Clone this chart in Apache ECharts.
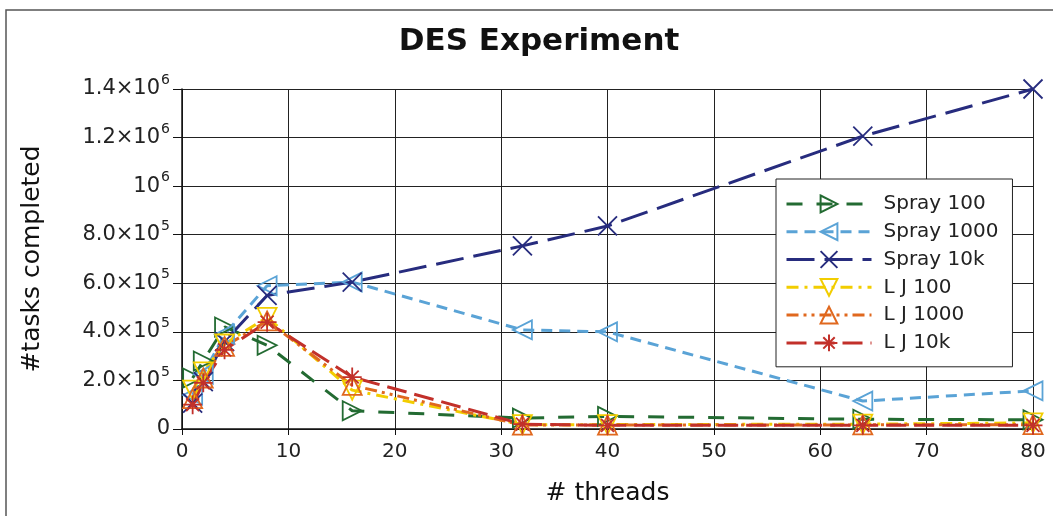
<!DOCTYPE html>
<html>
<head>
<meta charset="utf-8">
<script src="https://cdn.jsdelivr.net/npm/echarts@6/dist/echarts.min.js"></script>
<style>
  html, body { margin: 0; padding: 0; background: #fff; }
  #chart { width: 1053px; height: 516px; }
</style>
</head>
<body>
<div id="chart"></div>
<script>
// thread counts on the x axis
var threads = [1, 2, 4, 8, 16, 32, 40, 64, 80];

// tasks completed
var spray100  = [210000, 280000, 420000, 345000, 75000, 45000, 52000, 40000, 38000];
var spray1000 = [140000, 225000, 390000, 590000, 605000, 408000, 400000, 115000, 157000];
var spray10k  = [107000, 195000, 360000, 550000, 605000, 754000, 836000, 1206000, 1400000];
var lj100     = [160000, 235000, 350000, 460000, 160000, 18000, 18000, 20000, 25000];
var lj1000    = [125000, 210000, 340000, 445000, 180000, 16000, 16000, 17000, 18000];
var lj10k     = [100000, 190000, 326000, 440000, 214000, 20000, 15000, 15000, 15000];

var seriesNames = ['Spray 100', 'Spray 1000', 'Spray 10k', 'L J 100', 'L J 1000', 'L J 10k'];

// y tick labels (matplotlib style mantissa x 10^exp)
var yTickValues = [0, 200000, 400000, 600000, 800000, 1000000, 1200000, 1400000];
var yTickLabels = [['0', ''], ['2.0×10', '5'], ['4.0×10', '5'], ['6.0×10', '5'],
                   ['8.0×10', '5'], ['10', '6'], ['1.2×10', '6'], ['1.4×10', '6']];

var chart = echarts.init(document.getElementById('chart'));

function pairs(vals) {
  return threads.map(function (t, i) { return [t, vals[i]]; });
}

function makeSeries(name, vals, color, dash, symbol) {
  return {
    name: name,
    type: 'line',
    data: pairs(vals),
    color: color,
    symbol: symbol,
    symbolSize: 19,
    showSymbol: true,
    lineStyle: { color: color, width: 3, type: dash },
    itemStyle: { color: 'none', borderColor: color, borderWidth: 1.8 },
    emphasis: { disabled: true }
  };
}

var font = 'DejaVu Sans';

var option = {
  backgroundColor: '#ffffff',
  animation: false,
  title: {
    text: 'DES Experiment',
    left: 534,
    top: 21,
    textAlign: 'center',
    textStyle: { fontFamily: font, fontSize: 31, fontWeight: 'bold', color: '#111' }
  },
  grid: { left: 182, right: 20, top: 89, bottom: 87, containLabel: false },
  legend: {
    orient: 'vertical',
    left: 776,
    top: 179,
    backgroundColor: '#fff',
    borderColor: '#222',
    borderWidth: 1,
    padding: [14, 14, 13, 9],
    itemWidth: 85,
    itemHeight: 21,
    itemGap: 6,
    lineStyle: { width: 3 },
    data: seriesNames,
    textStyle: { fontFamily: font, fontSize: 20, lineHeight: 21, color: '#222', padding: [0, 0, 0, 7] }
  },
  xAxis: {
    type: 'value',
    min: 0,
    max: 80,
    interval: 10,
    name: '# threads',
    nameLocation: 'middle',
    nameGap: 52,
    nameTextStyle: { fontFamily: font, fontSize: 25, color: '#111' },
    axisLine: { show: true, lineStyle: { color: '#111', width: 1.5 } },
    axisTick: { show: true, length: 6, lineStyle: { color: '#111' } },
    axisLabel: { fontFamily: font, fontSize: 20, color: '#222', margin: 13 },
    splitLine: { show: true, lineStyle: { color: '#222', width: 1 } }
  },
  yAxis: {
    type: 'value',
    min: 0,
    max: 1400000,
    interval: 200000,
    name: '#tasks completed',
    nameLocation: 'middle',
    nameGap: 137,
    nameTextStyle: { fontFamily: font, fontSize: 25, color: '#111' },
    axisLine: { show: true, lineStyle: { color: '#111', width: 1.5 } },
    axisTick: { show: true, length: 9, lineStyle: { color: '#111' } },
    axisLabel: {
      margin: 12,
      formatter: function (v) {
        var i = yTickValues.indexOf(v);
        if (i < 0) return '';
        var l = yTickLabels[i];
        return l[1] ? '{b|' + l[0] + '}{s|' + l[1] + '}' : '{b|' + l[0] + '}';
      },
      rich: {
        b: { fontFamily: font, fontSize: 21, color: '#222' },
        s: { fontFamily: font, fontSize: 14, color: '#222', padding: [0, 0, 17, 1] }
      }
    },
    splitLine: { show: true, lineStyle: { color: '#222', width: 1 } }
  },
  graphic: [{
    type: 'rect',
    shape: { x: 6, y: 10, width: 1200, height: 700 },
    style: { fill: 'none', stroke: '#555', lineWidth: 1.5 },
    silent: true
  }],
  series: [
    makeSeries(seriesNames[0], spray100, '#236b32', [16, 14], 'path://M0,0L10,5L0,10Z'),
    makeSeries(seriesNames[1], spray1000, '#5aa3d6', [11, 7], 'path://M10,0L0,5L10,10Z'),
    makeSeries(seriesNames[2], spray10k, '#272c7e', [28, 10], 'path://M0,0L10,10M10,0L0,10'),
    makeSeries(seriesNames[3], lj100, '#f2cd00', [12, 6, 3, 6], 'path://M0,0L10,0L5,10Z'),
    makeSeries(seriesNames[4], lj1000, '#e0681e', [12, 5, 3, 5, 3, 5], 'path://M5,0L10,10L0,10Z'),
    makeSeries(seriesNames[5], lj10k, '#c2302a', [20, 8], 'path://M5,0L5,10M0,5L10,5M1.6,1.6L8.4,8.4M8.4,1.6L1.6,8.4')
  ]
};

chart.setOption(option);
</script>
</body>
</html>
